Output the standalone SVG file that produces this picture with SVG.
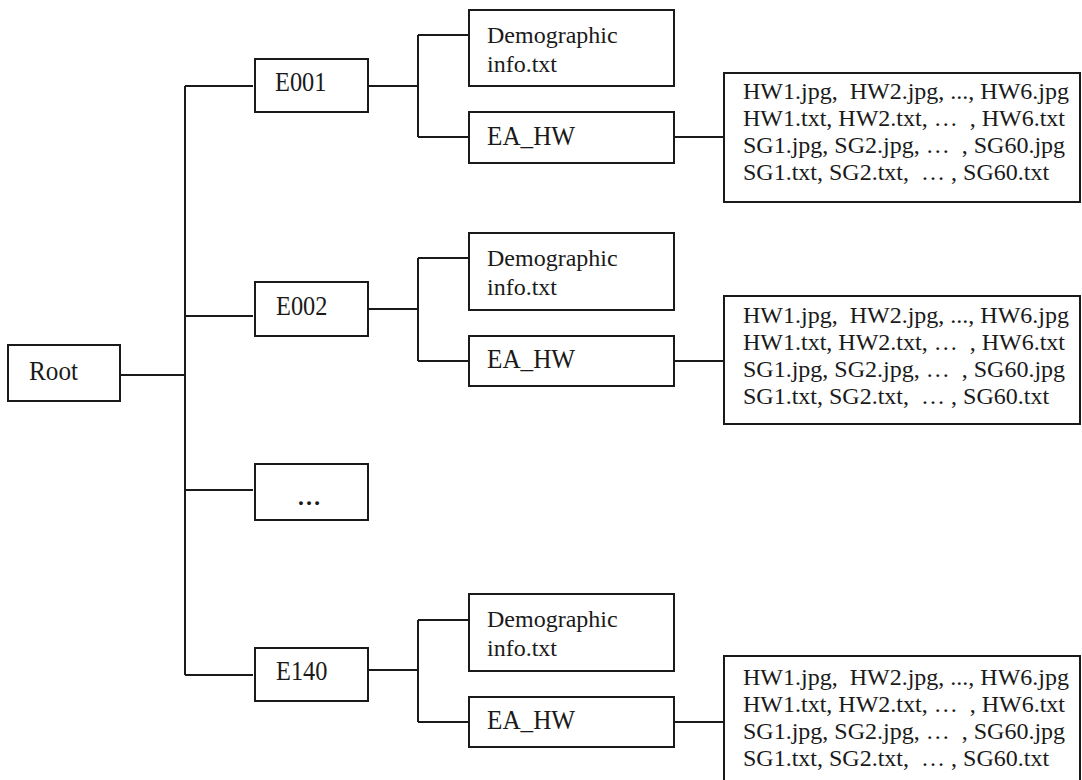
<svg xmlns="http://www.w3.org/2000/svg" width="1082" height="780" viewBox="0 0 1082 780">
<style>
  .box { fill: #fff; stroke: #1a1a1a; stroke-width: 2; }
  .ln { fill: none; stroke: #1a1a1a; stroke-width: 2; }
  .t { font-family: "Liberation Serif", "Times New Roman", serif; font-size: 24px; fill: #1a1a1a; white-space: pre; }
  .tl { font-family: "Liberation Serif", "Times New Roman", serif; font-size: 28px; fill: #1a1a1a; }
  .dots { font-family: "Liberation Serif", "Times New Roman", serif; font-size: 24px; font-weight: bold; fill: #1a1a1a; }
</style>
<rect width="1082" height="780" fill="#fff"/>
<g id="connectors">
  <path class="ln" d="M120 375 H185 M185 86 V675 M185 86 H253 M185 316 H253 M185 490 H253 M185 675 H253"/>
  <path class="ln" d="M368 86 H418 M418 35 V137 M418 35 H469 M418 137 H469 M674 137 H724"/>
  <path class="ln" d="M368 309 H418 M418 258 V361 M418 258 H469 M418 361 H469 M674 361 H724"/>
  <path class="ln" d="M368 670 H418 M418 620 V722 M418 620 H469 M418 722 H469 M674 722 H724"/>
</g>
<g id="root">
  <rect class="box" x="8" y="345" width="112" height="56"/>
  <text class="tl" transform="translate(29 380) scale(0.9 1)">Root</text>
</g>
<g id="e001">
  <rect class="box" x="255" y="59" width="113" height="53"/>
  <text class="tl" transform="translate(275 91) scale(0.87 1)">E001</text>
</g>
<g id="e001-demo">
  <rect class="box" x="469" y="10" width="205" height="76"/>
  <text class="t" x="487" y="43">Demographic</text>
  <text class="t" x="487" y="72">info.txt</text>
</g>
<g id="e001-eahw">
  <rect class="box" x="469" y="112" width="205" height="51"/>
  <text class="tl" transform="translate(487 145) scale(0.9 1)">EA_HW</text>
</g>
<g id="e001-files">
  <rect class="box" x="724" y="73" width="356" height="129"/>
  <text class="t" x="743" y="99">HW1.jpg,  HW2.jpg, ..., HW6.jpg</text>
  <text class="t" x="743" y="126">HW1.txt, HW2.txt, …  , HW6.txt</text>
  <text class="t" x="743" y="153">SG1.jpg, SG2.jpg, …  , SG60.jpg</text>
  <text class="t" x="743" y="180">SG1.txt, SG2.txt,  … , SG60.txt</text>
</g>
<g id="e002">
  <rect class="box" x="255" y="282" width="113" height="54"/>
  <text class="tl" transform="translate(276 315) scale(0.87 1)">E002</text>
</g>
<g id="e002-demo">
  <rect class="box" x="469" y="233" width="205" height="77"/>
  <text class="t" x="487" y="266">Demographic</text>
  <text class="t" x="487" y="295">info.txt</text>
</g>
<g id="e002-eahw">
  <rect class="box" x="469" y="336" width="205" height="50"/>
  <text class="tl" transform="translate(487 368) scale(0.9 1)">EA_HW</text>
</g>
<g id="e002-files">
  <rect class="box" x="724" y="296" width="356" height="128"/>
  <text class="t" x="743" y="323">HW1.jpg,  HW2.jpg, ..., HW6.jpg</text>
  <text class="t" x="743" y="350">HW1.txt, HW2.txt, …  , HW6.txt</text>
  <text class="t" x="743" y="377">SG1.jpg, SG2.jpg, …  , SG60.jpg</text>
  <text class="t" x="743" y="404">SG1.txt, SG2.txt,  … , SG60.txt</text>
</g>
<g id="ellipsis">
  <rect class="box" x="255" y="464" width="113" height="56"/>
  <text class="dots" x="297" y="505">…</text>
</g>
<g id="e140">
  <rect class="box" x="255" y="648" width="113" height="53"/>
  <text class="tl" transform="translate(276 680) scale(0.87 1)">E140</text>
</g>
<g id="e140-demo">
  <rect class="box" x="469" y="594" width="205" height="77"/>
  <text class="t" x="487" y="627">Demographic</text>
  <text class="t" x="487" y="656">info.txt</text>
</g>
<g id="e140-eahw">
  <rect class="box" x="469" y="697" width="205" height="50"/>
  <text class="tl" transform="translate(487 729) scale(0.9 1)">EA_HW</text>
</g>
<g id="e140-files">
  <rect class="box" x="724" y="656" width="356" height="140"/>
  <text class="t" x="743" y="685">HW1.jpg,  HW2.jpg, ..., HW6.jpg</text>
  <text class="t" x="743" y="712">HW1.txt, HW2.txt, …  , HW6.txt</text>
  <text class="t" x="743" y="739">SG1.jpg, SG2.jpg, …  , SG60.jpg</text>
  <text class="t" x="743" y="766">SG1.txt, SG2.txt,  … , SG60.txt</text>
</g>
</svg>
